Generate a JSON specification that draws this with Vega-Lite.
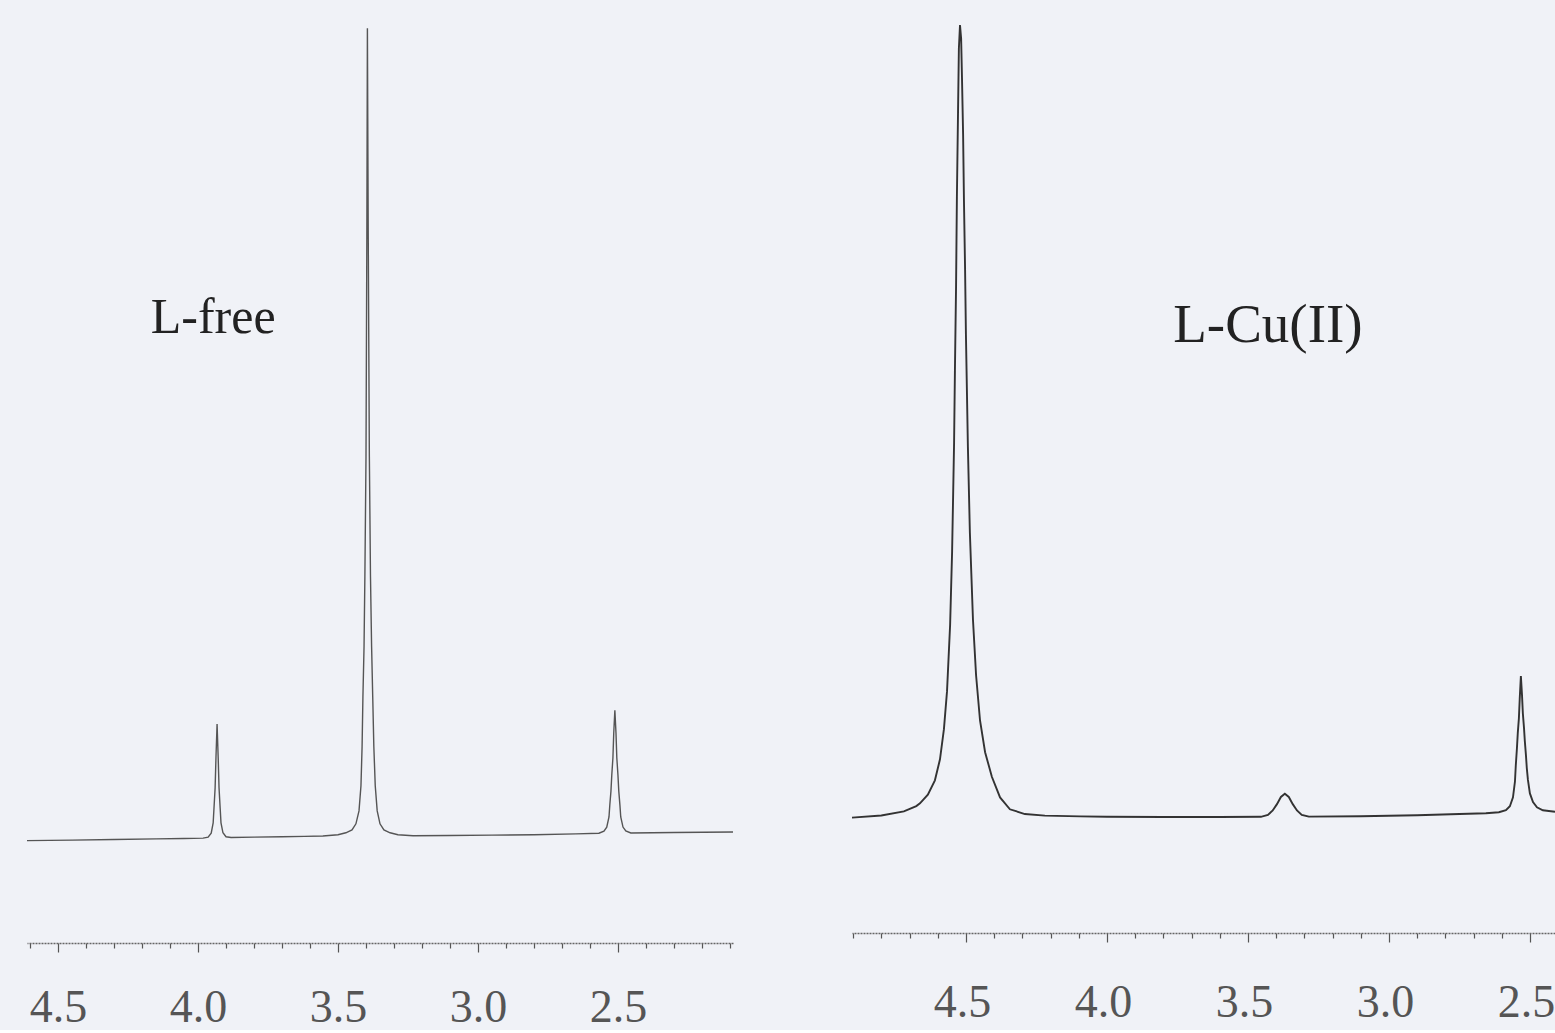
{
  "$schema": "https://vega.github.io/schema/vega-lite/v6.json",
  "background": "#f0f2f7",
  "padding": {"left": 24, "right": 0, "top": 0, "bottom": 0},
  "spacing": 119,
  "bounds": "flush",
  "config": {"view": {"stroke": null}},
  "datasets": {
    "free": [
      {"ppm": 4.611, "I": -0.33}, {"ppm": 4.45, "I": -0.27}, {"ppm": 4.3, "I": -0.2}, {"ppm": 4.15, "I": -0.12},
      {"ppm": 4.05, "I": -0.06}, {"ppm": 3.982, "I": -0.02}, {"ppm": 3.964, "I": 0.1}, {"ppm": 3.953, "I": 0.6},
      {"ppm": 3.946, "I": 1.85}, {"ppm": 3.943, "I": 3.7}, {"ppm": 3.939, "I": 6.2}, {"ppm": 3.936, "I": 9.9},
      {"ppm": 3.932, "I": 14.1}, {"ppm": 3.928, "I": 9.9}, {"ppm": 3.925, "I": 6.2}, {"ppm": 3.921, "I": 3.7},
      {"ppm": 3.918, "I": 1.87}, {"ppm": 3.911, "I": 0.64}, {"ppm": 3.9, "I": 0.15}, {"ppm": 3.882, "I": 0.05},
      {"ppm": 3.8, "I": 0.1}, {"ppm": 3.7, "I": 0.15}, {"ppm": 3.62, "I": 0.2}, {"ppm": 3.554, "I": 0.25},
      {"ppm": 3.5, "I": 0.39}, {"ppm": 3.472, "I": 0.64}, {"ppm": 3.45, "I": 1.0}, {"ppm": 3.436, "I": 1.75},
      {"ppm": 3.425, "I": 3.35}, {"ppm": 3.418, "I": 6.45}, {"ppm": 3.414, "I": 11.3}, {"ppm": 3.411, "I": 17.5},
      {"ppm": 3.407, "I": 23.7}, {"ppm": 3.404, "I": 32.4}, {"ppm": 3.4, "I": 47.2}, {"ppm": 3.397, "I": 74.5},
      {"ppm": 3.395, "I": 100.2}, {"ppm": 3.392, "I": 74.5}, {"ppm": 3.388, "I": 47.2}, {"ppm": 3.384, "I": 32.4},
      {"ppm": 3.38, "I": 23.7}, {"ppm": 3.376, "I": 17.5}, {"ppm": 3.372, "I": 11.3}, {"ppm": 3.367, "I": 6.45},
      {"ppm": 3.36, "I": 3.35}, {"ppm": 3.35, "I": 1.75}, {"ppm": 3.336, "I": 1.0}, {"ppm": 3.314, "I": 0.64},
      {"ppm": 3.286, "I": 0.4}, {"ppm": 3.232, "I": 0.28}, {"ppm": 3.1, "I": 0.3}, {"ppm": 2.95, "I": 0.35},
      {"ppm": 2.8, "I": 0.4}, {"ppm": 2.65, "I": 0.5}, {"ppm": 2.568, "I": 0.58}, {"ppm": 2.55, "I": 0.85},
      {"ppm": 2.54, "I": 1.34}, {"ppm": 2.532, "I": 2.6}, {"ppm": 2.529, "I": 4.1}, {"ppm": 2.525, "I": 5.8},
      {"ppm": 2.522, "I": 7.8}, {"ppm": 2.518, "I": 9.9}, {"ppm": 2.515, "I": 13.0}, {"ppm": 2.511, "I": 15.8},
      {"ppm": 2.507, "I": 13.0}, {"ppm": 2.504, "I": 9.9}, {"ppm": 2.5, "I": 7.8}, {"ppm": 2.497, "I": 5.8},
      {"ppm": 2.493, "I": 4.1}, {"ppm": 2.49, "I": 2.6}, {"ppm": 2.482, "I": 1.35}, {"ppm": 2.472, "I": 0.87},
      {"ppm": 2.454, "I": 0.62}, {"ppm": 2.3, "I": 0.68}, {"ppm": 2.089, "I": 0.74}
    ],
    "cu": [
      {"ppm": 4.904, "I": 0.05}, {"ppm": 4.8, "I": 0.32}, {"ppm": 4.72, "I": 0.83}, {"ppm": 4.676, "I": 1.5},
      {"ppm": 4.663, "I": 1.85}, {"ppm": 4.635, "I": 2.95}, {"ppm": 4.61, "I": 4.75}, {"ppm": 4.592, "I": 7.4},
      {"ppm": 4.578, "I": 11.2}, {"ppm": 4.567, "I": 16.0}, {"ppm": 4.556, "I": 24.4}, {"ppm": 4.549, "I": 33.6},
      {"ppm": 4.542, "I": 47.3}, {"ppm": 4.539, "I": 56.4}, {"ppm": 4.535, "I": 67.0}, {"ppm": 4.532, "I": 78.3},
      {"ppm": 4.528, "I": 89.0}, {"ppm": 4.525, "I": 97.0}, {"ppm": 4.521, "I": 100}, {"ppm": 4.517, "I": 98.3},
      {"ppm": 4.514, "I": 93.4}, {"ppm": 4.51, "I": 86.2}, {"ppm": 4.507, "I": 77.9}, {"ppm": 4.503, "I": 69.2},
      {"ppm": 4.5, "I": 61.0}, {"ppm": 4.493, "I": 46.8}, {"ppm": 4.486, "I": 36.0}, {"ppm": 4.475, "I": 25.0},
      {"ppm": 4.464, "I": 18.0}, {"ppm": 4.45, "I": 12.3}, {"ppm": 4.432, "I": 8.3}, {"ppm": 4.408, "I": 5.2},
      {"ppm": 4.379, "I": 2.6}, {"ppm": 4.344, "I": 1.1}, {"ppm": 4.291, "I": 0.5}, {"ppm": 4.22, "I": 0.3},
      {"ppm": 4.095, "I": 0.2}, {"ppm": 4.0, "I": 0.15}, {"ppm": 3.8, "I": 0.12}, {"ppm": 3.6, "I": 0.12},
      {"ppm": 3.454, "I": 0.15}, {"ppm": 3.429, "I": 0.4}, {"ppm": 3.412, "I": 0.95}, {"ppm": 3.397, "I": 1.75},
      {"ppm": 3.383, "I": 2.65}, {"ppm": 3.369, "I": 3.05}, {"ppm": 3.355, "I": 2.65}, {"ppm": 3.341, "I": 1.75},
      {"ppm": 3.326, "I": 0.95}, {"ppm": 3.309, "I": 0.4}, {"ppm": 3.284, "I": 0.17}, {"ppm": 3.1, "I": 0.22},
      {"ppm": 2.9, "I": 0.35}, {"ppm": 2.75, "I": 0.5}, {"ppm": 2.656, "I": 0.6}, {"ppm": 2.61, "I": 0.73},
      {"ppm": 2.585, "I": 0.98}, {"ppm": 2.571, "I": 1.48}, {"ppm": 2.56, "I": 2.6}, {"ppm": 2.553, "I": 4.6},
      {"ppm": 2.55, "I": 6.65}, {"ppm": 2.546, "I": 8.8}, {"ppm": 2.543, "I": 10.7}, {"ppm": 2.539, "I": 12.6},
      {"ppm": 2.536, "I": 15.1}, {"ppm": 2.532, "I": 17.9}, {"ppm": 2.528, "I": 15.5}, {"ppm": 2.525, "I": 13.2},
      {"ppm": 2.521, "I": 11.4}, {"ppm": 2.518, "I": 9.7}, {"ppm": 2.514, "I": 7.9}, {"ppm": 2.511, "I": 6.3},
      {"ppm": 2.507, "I": 4.8}, {"ppm": 2.5, "I": 3.1}, {"ppm": 2.489, "I": 2.0}, {"ppm": 2.475, "I": 1.36},
      {"ppm": 2.454, "I": 0.98}, {"ppm": 2.411, "I": 0.79}
    ],
    "freeLabel": [{"ppm": 3.946, "I": 64.4, "label": "L-free"}],
    "cuLabel": [{"ppm": 3.429, "I": 62.2, "label": "L-Cu(II)"}]
  },
  "hconcat": [
    {
      "width": 706,
      "height": 943,
      "layer": [
        {
          "data": {"name": "free"},
          "mark": {"type": "line", "color": "#555555", "strokeWidth": 1.4},
          "encoding": {
            "x": {"field": "ppm", "type": "quantitative",
                  "scale": {"domain": [2.089, 4.611], "reverse": true, "nice": false, "zero": false},
                  "axis": {
                    "values": [4.6, 4.5, 4.4, 4.3, 4.2, 4.1, 4.0, 3.9, 3.8, 3.7, 3.6, 3.5, 3.4, 3.3, 3.2, 3.1, 3.0, 2.9, 2.8, 2.7, 2.6, 2.5, 2.4, 2.3, 2.2, 2.1],
                    "tickCount": 200,
                    "grid": false, "title": null,
                    "labelFont": "Liberation Sans Narrow", "labelFontSize": 46, "labelColor": "#555555",
                    "labelPadding": 33, "labelOverlap": false, "labelFlush": false, "labelBound": false,
                    "labelExpr": "(round(datum.value*10) % 5 == 0) ? format(datum.value, '.1f') : ''",
                    "tickColor": "#555555", "tickWidth": 1.2,
                    "tickSize": {"condition": {"test": "round(datum.value*10) % 5 == 0", "value": 9}, "value": 5},
                    "domainColor": "#666666", "domainWidth": 1.5, "domainDash": [2, 1]
                  }},
            "y": {"field": "I", "type": "quantitative",
                  "scale": {"domain": [-13.0, 103.7], "nice": false, "zero": false}, "axis": null}
          }
        },
        {
          "data": {"name": "freeLabel"},
          "mark": {"type": "text", "font": "Liberation Serif", "fontSize": 50, "color": "#222222", "baseline": "middle", "align": "center"},
          "encoding": {
            "x": {"field": "ppm", "type": "quantitative"},
            "y": {"field": "I", "type": "quantitative"},
            "text": {"field": "label"}
          }
        }
      ]
    },
    {
      "width": 703,
      "height": 933,
      "layer": [
        {
          "data": {"name": "cu"},
          "mark": {"type": "line", "color": "#333333", "strokeWidth": 1.9},
          "encoding": {
            "x": {"field": "ppm", "type": "quantitative",
                  "scale": {"domain": [2.411, 4.904], "reverse": true, "nice": false, "zero": false},
                  "axis": {
                    "values": [4.9, 4.8, 4.7, 4.6, 4.5, 4.4, 4.3, 4.2, 4.1, 4.0, 3.9, 3.8, 3.7, 3.6, 3.5, 3.4, 3.3, 3.2, 3.1, 3.0, 2.9, 2.8, 2.7, 2.6, 2.5],
                    "tickCount": 200,
                    "grid": false, "title": null,
                    "labelFont": "Liberation Sans Narrow", "labelFontSize": 46, "labelColor": "#555555",
                    "labelPadding": 38, "labelOffset": -4, "labelOverlap": false, "labelFlush": false, "labelBound": false,
                    "labelExpr": "(round(datum.value*10) % 5 == 0) ? format(datum.value, '.1f') : ''",
                    "tickColor": "#555555", "tickWidth": 1.2,
                    "tickSize": {"condition": {"test": "round(datum.value*10) % 5 == 0", "value": 9}, "value": 5},
                    "domainColor": "#666666", "domainWidth": 1.5, "domainDash": [2, 1]
                  }},
            "y": {"field": "I", "type": "quantitative",
                  "scale": {"domain": [-14.5, 103.15], "nice": false, "zero": false}, "axis": null}
          }
        },
        {
          "data": {"name": "cuLabel"},
          "mark": {"type": "text", "font": "Liberation Serif", "fontSize": 55, "color": "#222222", "baseline": "middle", "align": "center"},
          "encoding": {
            "x": {"field": "ppm", "type": "quantitative"},
            "y": {"field": "I", "type": "quantitative"},
            "text": {"field": "label"}
          }
        }
      ]
    }
  ],
  "resolve": {"scale": {"x": "independent", "y": "independent"}}
}
